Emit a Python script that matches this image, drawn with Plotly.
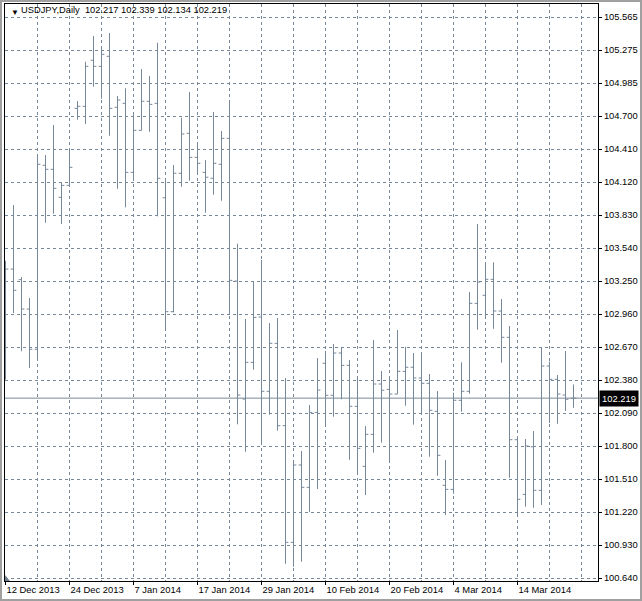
import plotly.graph_objects as go
import pandas as pd
import numpy as np

# ---------------- data ----------------
holidays = [pd.Timestamp("2013-12-25"), pd.Timestamp("2014-01-01")]
dates = [d for d in pd.bdate_range("2013-12-12", "2014-03-25") if d not in holidays]

opens = [103.100, 103.352, 103.259, 103.001, 102.648, 104.263, 104.228, 103.982, 104.087, 104.763,
         104.781, 105.185, 105.132, 105.220, 104.772, 104.807, 104.201, 104.570, 104.825, 104.807,
         103.978, 102.978, 104.193, 104.544, 104.333, 104.201, 104.149, 104.272, 104.500, 103.247,
         102.211, 102.533, 102.931, 102.279, 102.700, 101.977, 100.953, 101.632, 101.436, 102.094,
         102.525, 102.244, 102.615, 102.507, 102.147, 101.620, 101.901, 102.343, 102.296, 102.255,
         102.454, 102.490, 102.396, 102.349, 102.103, 101.454, 101.418, 102.200, 102.279, 103.051,
         103.122, 103.262, 102.984, 102.753, 101.854, 101.374, 101.792, 101.410, 102.501, 102.384,
         102.246, 102.217]
highs = [103.425, 103.914, 103.282, 103.098, 104.362, 104.353, 104.617, 104.114, 104.409, 104.827,
         105.172, 105.398, 105.308, 105.424, 104.871, 104.939, 104.728, 105.108, 105.047, 105.339,
         104.149, 104.266, 104.681, 104.906, 104.465, 104.309, 104.731, 104.564, 104.834, 103.575,
         102.914, 103.247, 103.432, 102.878, 102.922, 102.396, 101.661, 101.755, 102.159, 102.571,
         102.633, 102.694, 102.668, 102.554, 102.411, 101.974, 102.729, 102.457, 102.411, 102.817,
         102.668, 102.615, 102.624, 102.431, 102.281, 101.676, 102.267, 102.533, 103.151, 103.748,
         103.411, 103.411, 103.089, 102.852, 101.880, 101.860, 101.930, 102.668, 102.539, 102.422,
         102.633, 102.339]
lows = [102.381, 102.966, 102.630, 102.483, 102.547, 103.759, 103.838, 103.748, 104.084, 104.663,
        104.625, 104.953, 104.848, 104.523, 104.057, 103.894, 104.128, 104.570, 104.558, 103.815,
        102.811, 102.972, 104.075, 104.128, 104.178, 103.847, 104.005, 103.952, 102.957, 101.989,
        101.749, 102.468, 101.810, 102.073, 101.933, 100.765, 100.739, 100.783, 101.219, 101.421,
        101.968, 102.056, 102.209, 101.678, 101.550, 101.368, 101.740, 101.828, 101.652, 102.255,
        102.152, 101.986, 102.080, 101.705, 101.538, 101.193, 101.380, 102.100, 102.258, 102.820,
        102.928, 102.828, 102.530, 101.520, 101.178, 101.266, 101.257, 101.281, 102.001, 101.994,
        102.106, 102.134]
closes = [103.352, 103.166, 103.001, 102.648, 104.272, 104.228, 104.061, 104.087, 104.245, 104.781,
          105.132, 105.132, 105.237, 104.763, 104.836, 104.201, 104.570, 104.825, 104.798, 104.149,
          102.978, 104.193, 104.538, 104.333, 104.280, 104.158, 104.280, 104.500, 103.253, 102.246,
          102.533, 102.928, 102.279, 102.700, 101.977, 100.953, 101.632, 101.436, 102.094, 102.290,
          102.244, 102.615, 102.507, 102.147, 101.778, 101.901, 102.343, 102.288, 102.255, 102.454,
          102.490, 102.396, 102.349, 102.112, 101.717, 101.418, 102.200, 102.279, 103.051, 103.238,
          103.262, 102.984, 102.753, 101.854, 101.331, 101.799, 101.410, 102.501, 102.384, 102.255,
          102.209, 102.219]

x_tick_labels = ["12 Dec 2013", "24 Dec 2013", "7 Jan 2014", "17 Jan 2014", "29 Jan 2014",
                 "10 Feb 2014", "20 Feb 2014", "4 Mar 2014", "14 Mar 2014"]
y_tick_labels = ["100.640", "100.930", "101.220", "101.510", "101.800", "102.090", "102.380",
                 "102.670", "102.960", "103.250", "103.540", "103.830", "104.120", "104.410",
                 "104.700", "104.985", "105.275", "105.565"]
symbol = "USDJPY,Daily"

# ---------------- styling ----------------
BAR = "#778899"
GRID = "#778899"
FONT = "Liberation Sans, Arial, sans-serif"
FS = 9.4

W, H = 642, 601
ML, MR, MT, MB = 5, 44, 4, 20
PW, PH = W - ML - MR, H - MT - MB
BAR_PX = 8.0          # pixel spacing between bars
FIRST_PX = 0.5        # first bar offset inside plot area

idx = list(range(len(opens)))
x_min = -FIRST_PX / BAR_PX
x_max = x_min + PW / BAR_PX

y_lo, y_hi = float(y_tick_labels[0]), float(y_tick_labels[-1])
ytick_vals = np.linspace(y_lo, y_hi, len(y_tick_labels))
px_per_unit = 33.0 / (ytick_vals[1] - ytick_vals[0])
y_min = y_lo - 3 / px_per_unit
y_max = y_min + PH / px_per_unit

label_dates = [pd.Timestamp(lab) for lab in x_tick_labels]
xtick_vals = [dates.index(d) for d in label_dates]
minor_vals = [v + 4 for v in xtick_vals] + [xtick_vals[-1] + 8]


def px_x(px):
    return (px - ML) / PW


def px_y(py):
    return 1 - (py - MT) / PH


fig = go.Figure()
fig.add_trace(go.Ohlc(
    x=idx, open=opens, high=highs, low=lows, close=closes,
    tickwidth=0.36,
    increasing=dict(line=dict(color=BAR, width=1)),
    decreasing=dict(line=dict(color=BAR, width=1)),
    hoverinfo="skip", showlegend=False,
))

last_close = closes[-1]
fig.add_shape(type="line", xref="paper", x0=0, x1=1, yref="y", y0=last_close, y1=last_close,
              line=dict(color=BAR, width=1))

# header text
header = f"{symbol}\u00a0 {opens[-1]:.3f} {highs[-1]:.3f} {lows[-1]:.3f} {closes[-1]:.3f}"
fig.add_annotation(xref="paper", yref="paper", x=px_x(9), y=px_y(6),
                   xanchor="left", yanchor="top", text="▼", showarrow=False,
                   font=dict(family=FONT, size=8, color="black"))
fig.add_annotation(xref="paper", yref="paper", x=px_x(19), y=px_y(3),
                   xanchor="left", yanchor="top", text=header, showarrow=False,
                   font=dict(family=FONT, size=9.3, color="black"))

# current price label
fig.add_annotation(xref="paper", yref="y", x=1, y=last_close, xanchor="left", yanchor="middle",
                   text=f"{last_close:.3f}", showarrow=False, bgcolor="black",
                   font=dict(family=FONT, size=FS, color="white"), borderpad=2, xshift=1)

# small corner marker bottom-left
fig.add_shape(type="path", xref="paper", yref="paper",
              path=f"M {px_x(5)},{px_y(575)} L {px_x(5)},{px_y(581)} L {px_x(10)},{px_y(581)} Z",
              fillcolor="#708090", line=dict(width=0))

# outer grey frame
fig.add_shape(type="rect", xref="paper", yref="paper",
              x0=px_x(1), x1=px_x(W - 1), y0=px_y(H - 1), y1=px_y(1),
              line=dict(color="#a0a0a0", width=2), fillcolor="rgba(0,0,0,0)")

fig.update_layout(
    width=W, height=H,
    margin=dict(l=ML, r=MR, t=MT, b=MB),
    paper_bgcolor="white", plot_bgcolor="white",
    showlegend=False,
    xaxis=dict(
        range=[x_min, x_max], rangeslider=dict(visible=False),
        tickvals=xtick_vals, ticktext=x_tick_labels, tickangle=0,
        ticks="outside", ticklen=3, tickcolor="black",
        ticklabelposition="outside right",
        showgrid=True, gridcolor=GRID, griddash="3px,3px", gridwidth=1,
        minor=dict(tickvals=minor_vals, showgrid=True, gridcolor=GRID, griddash="3px,3px", ticks=""),
        showline=True, linecolor="black", linewidth=1, mirror=True,
        zeroline=False, fixedrange=True,
        tickfont=dict(family=FONT, size=FS, color="black"),
    ),
    yaxis=dict(
        range=[y_min, y_max], side="right",
        tickvals=ytick_vals, ticktext=y_tick_labels,
        ticks="outside", ticklen=3, tickcolor="black",
        showgrid=True, gridcolor=GRID, griddash="3px,3px", gridwidth=1,
        showline=True, linecolor="black", linewidth=1, mirror=True,
        zeroline=False, fixedrange=True,
        tickfont=dict(family=FONT, size=FS, color="black"),
    ),
)

fig.write_html("out.html", config=dict(displayModeBar=False),
               post_script="document.body.style.margin='0';document.body.style.overflow='hidden';")
